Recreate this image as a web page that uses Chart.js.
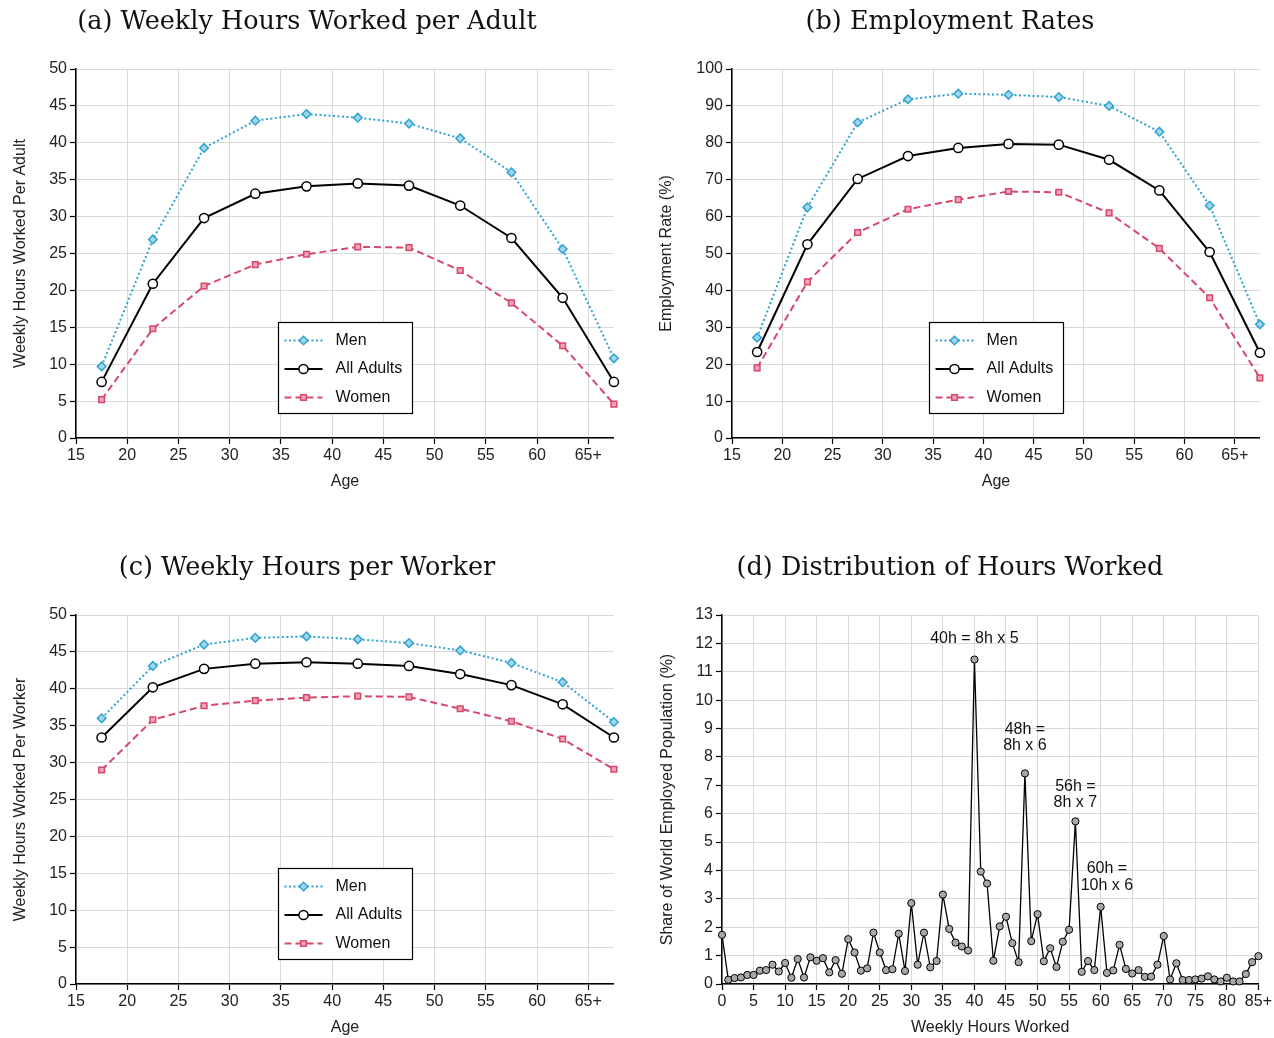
<!DOCTYPE html>
<html>
<head>
<meta charset="utf-8">
<script src="https://cdn.jsdelivr.net/npm/chart.js@4.4.0/dist/chart.umd.min.js"></script>
<style>
  html, body { margin: 0; padding: 0; background: #fff; overflow: hidden; }
  canvas { position: absolute; }
</style>
</head>
<body>
<canvas id="ca" width="620" height="492" style="left:0;top:0"></canvas>
<canvas id="cb" width="626" height="492" style="left:640px;top:0"></canvas>
<canvas id="cc" width="620" height="492" style="left:0;top:546px"></canvas>
<canvas id="cd" width="634" height="492" style="left:640px;top:546px"></canvas>
<script>
// age group mid points (x positions of the markers)
const AGE_MID = [17.5, 22.5, 27.5, 32.5, 37.5, 42.5, 47.5, 52.5, 57.5, 62.5, 67.5];

// (a) weekly hours worked per adult
const ADULT_MEN   = [9.7, 26.9, 39.3, 43.0, 43.9, 43.4, 42.6, 40.6, 36.0, 25.6, 10.8];
const ADULT_ALL   = [7.6, 20.9, 29.8, 33.1, 34.1, 34.5, 34.2, 31.5, 27.1, 19.0, 7.6];
const ADULT_WOMEN = [5.2, 14.8, 20.6, 23.5, 24.9, 25.9, 25.8, 22.7, 18.3, 12.5, 4.6];

// (b) employment rates (%)
const EMP_MEN   = [27.2, 62.5, 85.5, 91.8, 93.3, 93.0, 92.4, 90.0, 83.0, 63.0, 30.8];
const EMP_ALL   = [23.3, 52.5, 70.2, 76.4, 78.6, 79.7, 79.5, 75.4, 67.1, 50.4, 23.1];
const EMP_WOMEN = [19.0, 42.3, 55.7, 62.0, 64.6, 66.8, 66.6, 61.0, 51.4, 38.0, 16.3];

// (c) weekly hours per worker
const WORKER_MEN   = [36.0, 43.1, 46.0, 46.9, 47.1, 46.7, 46.2, 45.2, 43.5, 40.9, 35.5];
const WORKER_ALL   = [33.4, 40.2, 42.7, 43.4, 43.6, 43.4, 43.1, 42.0, 40.5, 37.9, 33.4];
const WORKER_WOMEN = [29.0, 35.8, 37.7, 38.4, 38.8, 39.0, 38.9, 37.3, 35.6, 33.2, 29.1];

// (d) distribution of hours worked
const HOURS = [0, 1, 2, 3, 4, 5, 6, 7, 8, 9, 10, 11, 12, 13, 14, 15, 16, 17, 18, 19,
  20, 21, 22, 23, 24, 25, 26, 27, 28, 29, 30, 31, 32, 33, 34, 35, 36, 37, 38, 39,
  40, 41, 42, 43, 44, 45, 46, 47, 48, 49, 50, 51, 52, 53, 54, 55, 56, 57, 58, 59,
  60, 61, 62, 63, 64, 65, 66, 67, 68, 69, 70, 71, 72, 73, 74, 75, 76, 77, 78, 79,
  80, 81, 82, 83, 84, 85];
const SHARE = [1.73, 0.15, 0.21, 0.23, 0.32, 0.32, 0.47, 0.49, 0.68, 0.44,
  0.74, 0.22, 0.88, 0.23, 0.94, 0.82, 0.91, 0.41, 0.84, 0.36,
  1.58, 1.11, 0.47, 0.55, 1.81, 1.11, 0.49, 0.52, 1.77, 0.46,
  2.85, 0.68, 1.81, 0.59, 0.81, 3.15, 1.94, 1.46, 1.32, 1.18,
  11.43, 3.96, 3.54, 0.82, 2.03, 2.37, 1.44, 0.77, 7.42, 1.51,
  2.46, 0.80, 1.26, 0.60, 1.49, 1.91, 5.73, 0.43, 0.81, 0.49,
  2.72, 0.39, 0.48, 1.38, 0.53, 0.37, 0.49, 0.25, 0.26, 0.68,
  1.69, 0.16, 0.73, 0.14, 0.14, 0.16, 0.19, 0.27, 0.16, 0.09,
  0.22, 0.09, 0.09, 0.35, 0.77, 0.98];

// annotations in (d): anchor in data units, text lines
const NOTE_X = [40, 48, 56, 61];
const NOTE_Y = [12.2, 9.0, 7.0, 4.1];
const NOTE_TEXT = [["40h = 8h x 5"], ["48h =", "8h x 6"], ["56h =", "8h x 7"], ["60h =", "10h x 6"]];

const SANS = "'Liberation Sans', Arial, sans-serif";
const SERIF = "'DejaVu Serif', 'Liberation Serif', serif";
const INK = "#222";
Chart.defaults.font.family = SANS;
Chart.defaults.color = INK;

const BLUE = "#2fa3d1", BLUE_FILL = "#a3d6ec";
const PINK = "#d7476b", PINK_FILL = "#eea6b7";

// legend box drawn inside the plot
const boxLegend = {
  id: "boxLegend",
  afterDraw(chart) {
    const { ctx, chartArea: a } = chart;
    const w = 134, h = 91;
    const left = Math.round((a.left + a.right) / 2 - w / 2) + 0.5;
    const top = Math.round(a.bottom - 25 - h) + 0.5;
    ctx.save();
    ctx.fillStyle = "#fff";
    ctx.fillRect(left, top, w, h);
    ctx.strokeStyle = "#000";
    ctx.lineWidth = 1.2;
    ctx.strokeRect(left, top, w, h);
    chart.data.datasets.forEach((ds, i) => {
      const y = top + 18 + i * 28.5;
      ctx.beginPath();
      ctx.setLineDash(ds.borderDash || []);
      ctx.strokeStyle = ds.borderColor;
      ctx.lineWidth = ds.borderWidth;
      ctx.moveTo(left + 6, y);
      ctx.lineTo(left + 44, y);
      ctx.stroke();
      ctx.setLineDash([]);
      ctx.fillStyle = ds.pointBackgroundColor;
      ctx.strokeStyle = ds.pointBorderColor;
      ctx.lineWidth = ds.pointBorderWidth;
      Chart.helpers.drawPoint(ctx, {
        pointStyle: ds.pointStyle, radius: ds.pointRadius,
        borderWidth: ds.pointBorderWidth, rotation: 0
      }, left + 25, y);
      ctx.fillStyle = "#111";
      ctx.font = "16px " + SANS;
      ctx.textBaseline = "middle";
      ctx.textAlign = "left";
      ctx.fillText(ds.label, left + 57, y);
    });
    ctx.restore();
  }
};

// text notes in (d)
const notes = {
  id: "notes",
  afterDatasetsDraw(chart) {
    const { ctx, scales } = chart;
    ctx.save();
    ctx.fillStyle = "#111";
    ctx.font = "16px " + SANS;
    ctx.textAlign = "center";
    ctx.textBaseline = "middle";
    NOTE_TEXT.forEach((lines, i) => {
      const px = scales.x.getPixelForValue(NOTE_X[i]);
      const py = scales.y.getPixelForValue(NOTE_Y[i]);
      lines.forEach((t, k) => ctx.fillText(t, px, py + 1 + k * 16.5));
    });
    ctx.restore();
  }
};

function pts(xs, ys) {
  return xs.map((x, i) => ({ x, y: ys[i] }));
}

function axisX(min, max, title, lastLabel) {
  return {
    type: "linear", min, max,
    ticks: {
      stepSize: 5, includeBounds: false, maxTicksLimit: 100, padding: 2,
      font: { size: 16 }, color: INK, maxRotation: 0,
      callback: v => v === lastLabel ? lastLabel + "+" : v
    },
    grid: { color: "#d9d9d9", lineWidth: 1, tickColor: "#000", tickLength: 6, tickWidth: 1.2 },
    border: { color: "#000", width: 1.5 },
    title: { display: true, text: title, font: { size: 16 }, color: INK, padding: { top: 0, bottom: 1 } },
    afterFit(s) { s.height = 54; }
  };
}

function axisY(max, step, title, width, titlePad) {
  return {
    min: 0, max,
    ticks: { stepSize: step, maxTicksLimit: 100, padding: 3, font: { size: 16 }, color: INK },
    grid: { color: "#d9d9d9", lineWidth: 1, tickColor: "#000", tickLength: 6, tickWidth: 1.2 },
    border: { color: "#000", width: 1.5 },
    title: { display: true, text: title, font: { size: 16 }, color: INK, padding: { top: titlePad, bottom: 0 } },
    afterFit(s) { s.width = width; }
  };
}

function titleOpts(text) {
  return {
    display: true, text, color: "#111",
    font: { family: SERIF, size: 25.5, weight: "normal" },
    padding: { top: 7, bottom: 31.4 }
  };
}

function agePanel(id, title, men, all, women, yMax, yStep, yTitle, yWidth, yPad) {
  new Chart(document.getElementById(id), {
    type: "line",
    data: {
      datasets: [
        {
          label: "Men", data: pts(AGE_MID, men),
          borderColor: BLUE, borderWidth: 2, borderDash: [2, 2.5],
          pointStyle: "rectRot", pointRadius: 4.3, pointBorderWidth: 1.5,
          pointBackgroundColor: BLUE_FILL, pointBorderColor: BLUE
        },
        {
          label: "All Adults", data: pts(AGE_MID, all),
          borderColor: "#000", borderWidth: 2,
          pointStyle: "circle", pointRadius: 4.6, pointBorderWidth: 1.5,
          pointBackgroundColor: "#fff", pointBorderColor: "#000"
        },
        {
          label: "Women", data: pts(AGE_MID, women),
          borderColor: PINK, borderWidth: 2, borderDash: [7, 4],
          pointStyle: "rect", pointRadius: 4, pointBorderWidth: 1.5,
          pointBackgroundColor: PINK_FILL, pointBorderColor: PINK
        }
      ]
    },
    options: {
      responsive: false,
      animation: false,
      devicePixelRatio: 1,
      clip: false,
      layout: { padding: { left: 0, right: 6, top: 0, bottom: 0 } },
      plugins: {
        legend: { display: false },
        tooltip: { enabled: false },
        title: titleOpts(title)
      },
      scales: {
        x: axisX(15, 67.5, "Age", 65),
        y: axisY(yMax, yStep, yTitle, yWidth, yPad)
      }
    },
    plugins: [boxLegend]
  });
}

agePanel("ca", "(a) Weekly Hours Worked per Adult", ADULT_MEN, ADULT_ALL, ADULT_WOMEN,
  50, 5, "Weekly Hours Worked Per Adult", 76, 11);
agePanel("cb", "(b) Employment Rates", EMP_MEN, EMP_ALL, EMP_WOMEN,
  100, 10, "Employment Rate (%)", 92, 17);
agePanel("cc", "(c) Weekly Hours per Worker", WORKER_MEN, WORKER_ALL, WORKER_WOMEN,
  50, 5, "Weekly Hours Worked Per Worker", 76, 11);

new Chart(document.getElementById("cd"), {
  type: "line",
  data: {
    datasets: [{
      label: "Share", data: pts(HOURS, SHARE),
      borderColor: "#000", borderWidth: 1.3,
      pointStyle: "circle", pointRadius: 3.6, pointBorderWidth: 1,
      pointBackgroundColor: "#a8a8a8", pointBorderColor: "#000"
    }]
  },
  options: {
    responsive: false,
    animation: false,
    devicePixelRatio: 1,
    clip: false,
    layout: { padding: { left: 0, right: 14, top: 0, bottom: 0 } },
    plugins: {
      legend: { display: false },
      tooltip: { enabled: false },
      title: titleOpts("(d) Distribution of Hours Worked")
    },
    scales: {
      x: axisX(0, 85, "Weekly Hours Worked", 85),
      y: axisY(13, 1, "Share of World Employed Population (%)", 82, 18)
    }
  },
  plugins: [notes]
});
</script>
</body>
</html>
